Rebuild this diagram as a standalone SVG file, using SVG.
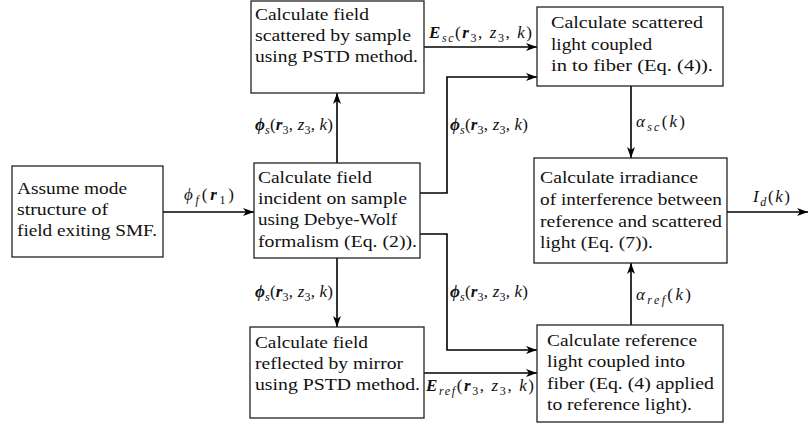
<svg xmlns="http://www.w3.org/2000/svg" width="809" height="426" viewBox="0 0 809 426">
<style>
.box{fill:#fff;stroke:#222;stroke-width:1.3}
.b{font-weight:bold;font-style:italic}
.i{font-style:italic}
.sub{font-size:12px}
.c{fill:none;stroke:#000;stroke-width:1.6;marker-end:url(#ah)}
</style>
<defs>
<marker id="ah" viewBox="0 0 12 10" refX="11" refY="5" markerWidth="12" markerHeight="10" orient="auto" markerUnits="userSpaceOnUse">
<path d="M0,1 L11,5 L0,9 L3,5 Z" fill="#000"/>
</marker>
</defs>
<rect width="809" height="426" fill="#fff"/>
<g id="connectors" font-family="Liberation Serif, Times New Roman, serif" font-size="17" fill="#111">
<path class="c" d="M163,212 H254"/>
<path class="c" d="M337,163 V93"/>
<path class="c" d="M424,47 H537"/>
<path class="c" d="M420,193 H447 V77 H537"/>
<path class="c" d="M631,86 V158"/>
<path class="c" d="M727,212 H808"/>
<path class="c" d="M337,258 V327"/>
<path class="c" d="M420,234 H447 V350 H537"/>
<path class="c" d="M424,373 H537"/>
<path class="c" d="M631,325 V263"/>
<text x="184" y="200" textLength="50" lengthAdjust="spacing"><tspan class="i">ϕ</tspan><tspan class="sub i" dy="4">f</tspan><tspan dy="-4">(</tspan><tspan class="b">r</tspan><tspan class="sub" dy="4">1</tspan><tspan dy="-4">)</tspan></text>
<text x="255" y="130" textLength="78" lengthAdjust="spacing"><tspan class="b">ϕ</tspan><tspan class="sub i" dy="4">s</tspan><tspan dy="-4">(</tspan><tspan class="b">r</tspan><tspan class="sub" dy="4">3</tspan><tspan dy="-4">, </tspan><tspan class="i">z</tspan><tspan class="sub" dy="4">3</tspan><tspan dy="-4">, </tspan><tspan class="i">k</tspan>)</text>
<text x="450" y="130" textLength="78" lengthAdjust="spacing"><tspan class="b">ϕ</tspan><tspan class="sub i" dy="4">s</tspan><tspan dy="-4">(</tspan><tspan class="b">r</tspan><tspan class="sub" dy="4">3</tspan><tspan dy="-4">, </tspan><tspan class="i">z</tspan><tspan class="sub" dy="4">3</tspan><tspan dy="-4">, </tspan><tspan class="i">k</tspan>)</text>
<text x="255" y="297" textLength="78" lengthAdjust="spacing"><tspan class="b">ϕ</tspan><tspan class="sub i" dy="4">s</tspan><tspan dy="-4">(</tspan><tspan class="b">r</tspan><tspan class="sub" dy="4">3</tspan><tspan dy="-4">, </tspan><tspan class="i">z</tspan><tspan class="sub" dy="4">3</tspan><tspan dy="-4">, </tspan><tspan class="i">k</tspan>)</text>
<text x="450" y="297" textLength="78" lengthAdjust="spacing"><tspan class="b">ϕ</tspan><tspan class="sub i" dy="4">s</tspan><tspan dy="-4">(</tspan><tspan class="b">r</tspan><tspan class="sub" dy="4">3</tspan><tspan dy="-4">, </tspan><tspan class="i">z</tspan><tspan class="sub" dy="4">3</tspan><tspan dy="-4">, </tspan><tspan class="i">k</tspan>)</text>
<text x="429" y="38" textLength="103" lengthAdjust="spacing"><tspan class="b">E</tspan><tspan class="sub i" dy="4">sc</tspan><tspan dy="-4">(</tspan><tspan class="b">r</tspan><tspan class="sub" dy="4">3</tspan><tspan dy="-4">, </tspan><tspan class="i">z</tspan><tspan class="sub" dy="4">3</tspan><tspan dy="-4">, </tspan><tspan class="i">k</tspan>)</text>
<text x="426" y="391" textLength="108" lengthAdjust="spacing"><tspan class="b">E</tspan><tspan class="sub i" dy="4">ref</tspan><tspan dy="-4">(</tspan><tspan class="b">r</tspan><tspan class="sub" dy="4">3</tspan><tspan dy="-4">, </tspan><tspan class="i">z</tspan><tspan class="sub" dy="4">3</tspan><tspan dy="-4">, </tspan><tspan class="i">k</tspan>)</text>
<text x="636" y="127" textLength="49" lengthAdjust="spacing"><tspan class="i">α</tspan><tspan class="sub i" dy="4">sc</tspan><tspan dy="-4">(</tspan><tspan class="i">k</tspan>)</text>
<text x="636" y="300" textLength="55" lengthAdjust="spacing"><tspan class="i">α</tspan><tspan class="sub i" dy="4">ref</tspan><tspan dy="-4">(</tspan><tspan class="i">k</tspan>)</text>
<text x="753" y="202" textLength="37" lengthAdjust="spacing"><tspan class="i">I</tspan><tspan class="sub i" dy="4">d</tspan><tspan dy="-4">(</tspan><tspan class="i">k</tspan>)</text>
</g>
<g font-family="Liberation Serif, Times New Roman, serif" font-size="17" fill="#111">
<g id="n-assume">
<rect class="box" x="12" y="166" width="151" height="91"/>
<text x="17" y="194" textLength="110" lengthAdjust="spacingAndGlyphs">Assume mode</text>
<text x="17" y="215" textLength="91" lengthAdjust="spacingAndGlyphs">structure of</text>
<text x="17" y="236" textLength="140" lengthAdjust="spacingAndGlyphs">field exiting SMF.</text>
</g>
<g id="n-scattered">
<rect class="box" x="251" y="1" width="173" height="92"/>
<text x="255" y="20" textLength="114" lengthAdjust="spacingAndGlyphs">Calculate field</text>
<text x="255" y="41" textLength="156" lengthAdjust="spacingAndGlyphs">scattered by sample</text>
<text x="255" y="62" textLength="163" lengthAdjust="spacingAndGlyphs">using PSTD method.</text>
</g>
<g id="n-incident">
<rect class="box" x="254" y="163" width="166" height="95"/>
<text x="258" y="183" textLength="114" lengthAdjust="spacingAndGlyphs">Calculate field</text>
<text x="258" y="204" textLength="149" lengthAdjust="spacingAndGlyphs">incident on sample</text>
<text x="258" y="225" textLength="139" lengthAdjust="spacingAndGlyphs">using Debye-Wolf</text>
<text x="258" y="247" textLength="159" lengthAdjust="spacingAndGlyphs">formalism (Eq. (2)).</text>
</g>
<g id="n-mirror">
<rect class="box" x="250" y="327" width="174" height="91"/>
<text x="255" y="348" textLength="113" lengthAdjust="spacingAndGlyphs">Calculate field</text>
<text x="255" y="369" textLength="148" lengthAdjust="spacingAndGlyphs">reflected by mirror</text>
<text x="255" y="390" textLength="165" lengthAdjust="spacingAndGlyphs">using PSTD method.</text>
</g>
<g id="n-scfiber">
<rect class="box" x="537" y="7" width="186" height="79"/>
<text x="551" y="28" textLength="152" lengthAdjust="spacingAndGlyphs">Calculate scattered</text>
<text x="551" y="50" textLength="101" lengthAdjust="spacingAndGlyphs">light coupled</text>
<text x="551" y="71" textLength="162" lengthAdjust="spacingAndGlyphs">in to fiber (Eq. (4)).</text>
</g>
<g id="n-irradiance">
<rect class="box" x="534" y="158" width="193" height="105"/>
<text x="540" y="183" textLength="158" lengthAdjust="spacingAndGlyphs">Calculate irradiance</text>
<text x="540" y="205" textLength="182" lengthAdjust="spacingAndGlyphs">of interference between</text>
<text x="540" y="227" textLength="182" lengthAdjust="spacingAndGlyphs">reference and scattered</text>
<text x="540" y="248" textLength="113" lengthAdjust="spacingAndGlyphs">light (Eq. (7)).</text>
</g>
<g id="n-reffiber">
<rect class="box" x="537" y="325" width="186" height="97"/>
<text x="547" y="346" textLength="150" lengthAdjust="spacingAndGlyphs">Calculate reference</text>
<text x="547" y="367" textLength="138" lengthAdjust="spacingAndGlyphs">light coupled into</text>
<text x="547" y="389" textLength="167" lengthAdjust="spacingAndGlyphs">fiber (Eq. (4) applied</text>
<text x="547" y="410" textLength="145" lengthAdjust="spacingAndGlyphs">to reference light).</text>
</g>
</g>
</svg>
